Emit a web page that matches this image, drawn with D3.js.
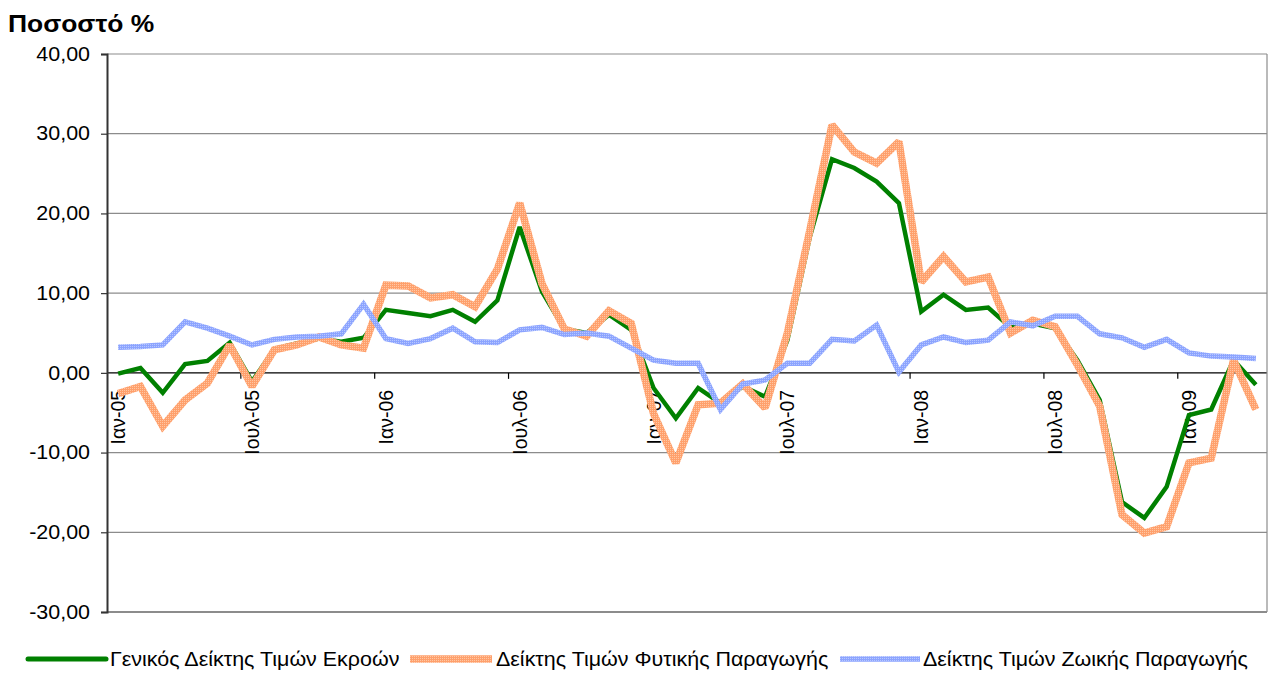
<!DOCTYPE html>
<html>
<head>
<meta charset="utf-8">
<script src="https://cdn.jsdelivr.net/npm/d3@7"></script>
<style>
  body { margin: 0; background: #fff; }
  text { font-family: "Liberation Sans", Arial, sans-serif; fill: #000; }
</style>
</head>
<body>
<svg></svg>
<script>
// months Jan 2005 .. Apr 2009
const monthNames = ["Ιαν", "Φεβ", "Μαρ", "Απρ", "Μαϊ", "Ιουν", "Ιουλ", "Αυγ", "Σεπ", "Οκτ", "Νοε", "Δεκ"]
const months = []
for (let yr = 5; yr <= 9; yr++) {
    for (let m = 0; m < 12; m++) {
        if (yr === 9 && m > 3) break
        months.push(monthNames[m] + "-0" + yr)
    }
}

// series values (percent)
const general = [
    -0.1, 0.6, -2.5, 1.1, 1.5, 3.8, -1.1, 3.0, 3.7, 4.3, 3.9, 4.4,
    7.9, 7.5, 7.1, 7.9, 6.4, 9.1, 18.3, 10.2, 5.5, 5.0, 7.3, 5.4,
    -1.9, -5.7, -1.9, -3.8, -1.7, -3.0, 4.1, 17.0, 26.8, 25.7, 24.0, 21.3,
    7.7, 9.8, 7.9, 8.2, 5.7, 6.2, 5.6, 1.6, -3.4, -16.2, -18.2, -14.3,
    -5.3, -4.6, 1.6, -1.5
]
const crops = [
    -2.6, -1.7, -6.7, -3.4, -1.3, 3.5, -1.7, 2.9, 3.5, 4.5, 3.5, 3.1,
    11.0, 10.9, 9.4, 9.8, 8.3, 13.0, 21.3, 11.2, 5.5, 4.6, 7.8, 6.2,
    -5.1, -11.3, -4.0, -3.8, -1.4, -4.4, 5.0, 17.8, 31.1, 27.7, 26.3, 29.0,
    11.4, 14.6, 11.4, 12.0, 5.0, 6.6, 5.8, 1.0, -4.2, -17.8, -20.1, -19.3,
    -11.3, -10.7, 1.6, -4.6
]
const livestock = [
    3.2, 3.3, 3.5, 6.4, 5.6, 4.6, 3.5, 4.2, 4.5, 4.6, 4.9, 8.6,
    4.3, 3.7, 4.3, 5.6, 3.9, 3.8, 5.4, 5.7, 4.8, 5.0, 4.6, 3.1,
    1.6, 1.2, 1.2, -4.6, -1.4, -0.9, 1.2, 1.2, 4.2, 4.0, 6.0, 0.1,
    3.5, 4.5, 3.8, 4.1, 6.4, 5.9, 7.1, 7.1, 4.9, 4.4, 3.2, 4.2,
    2.5, 2.1, 2.0, 1.8
]
const yTicks = [40, 30, 20, 10, 0, -10, -20, -30]
const seriesNames = ["Γενικός Δείκτης Τιμών Εκροών", "Δείκτης Τιμών Φυτικής Παραγωγής", "Δείκτης Τιμών Ζωικής Παραγωγής"]

const svg = d3.select("svg")
    .attr("width", 1269)
    .attr("height", 674)

const plotLeft = 107, plotRight = 1267, plotTop = 54, plotBottom = 612
const stretch = 1.1   // the original text is a little wider than Arial

// hatched textures like the excel line styles
const defs = svg.append("defs")
const makePattern = (id, base, dot) => {
    const p = defs.append("pattern")
        .attr("id", id)
        .attr("patternUnits", "userSpaceOnUse")
        .attr("width", 2)
        .attr("height", 2)
    p.append("rect").attr("width", 2).attr("height", 2).attr("fill", base)
    p.append("rect").attr("width", 1).attr("height", 1).attr("fill", dot)
}
makePattern("pat-orange", "#FFA06C", "#FFC7A4")
makePattern("pat-blue", "#8CA4FF", "#B8C8FF")

const x = d3.scaleBand()
    .domain(months)
    .range([plotLeft, plotRight])

const y = d3.scaleLinear()
    .domain([-30, 40])
    .range([plotBottom, plotTop])

// gridlines
svg.append("g")
    .selectAll("line")
    .data(yTicks)
    .enter()
    .append("line")
    .attr("x1", plotLeft)
    .attr("x2", plotRight)
    .attr("y1", d => y(d))
    .attr("y2", d => y(d))
    .style("stroke", d => d === 0 ? "#000" : "#8c8c8c")
    .style("stroke-width", d => d === -30 ? 2 : 1.2)

// right border
svg.append("line")
    .attr("x1", plotRight).attr("x2", plotRight)
    .attr("y1", plotTop).attr("y2", plotBottom)
    .style("stroke", "#8c8c8c")
    .style("stroke-width", 1.2)

// y axis
const yAxis = svg.append("g")
    .attr("transform", `translate(${plotLeft}, 0)`)
    .call(d3.axisLeft(y).tickValues(yTicks).tickSize(6)
        .tickFormat(d => d.toFixed(2).replace(".", ",")))
yAxis.select(".domain").style("stroke", "#333").style("stroke-width", 2)
yAxis.selectAll(".tick line").style("stroke", "#333").style("stroke-width", 1.2)
yAxis.selectAll("text")
    .attr("x", -17 / stretch)
    .attr("transform", `scale(${stretch}, 1)`)
    .style("font-family", "Liberation Sans, Arial, sans-serif")
    .style("font-size", "19.5px")
    .attr("fill", "#000")

// x ticks at category boundaries, every 6 months
const tickMonths = months.filter((m, i) => i % 6 === 0)
svg.append("g")
    .selectAll("line")
    .data(tickMonths.slice(1))
    .enter()
    .append("line")
    .attr("x1", d => x(d))
    .attr("x2", d => x(d))
    .attr("y1", y(0))
    .attr("y2", y(0) + 6)
    .style("stroke", "#000")
    .style("stroke-width", 1.2)

svg.append("g")
    .selectAll("text")
    .data(tickMonths)
    .enter()
    .append("text")
    .attr("transform", d => `translate(${x(d) + x.bandwidth() / 2 + 7}, ${y(0) + 17}) rotate(-90)`)
    .attr("text-anchor", "end")
    .style("font-size", "19.5px")
    .text(d => d)

// lines
const line = d3.line()
    .x((d, i) => x(months[i]) + x.bandwidth() / 2)
    .y(d => y(d))

const series = [
    { name: seriesNames[0], values: general, stroke: "#008000", width: 4.5 },
    { name: seriesNames[1], values: crops, stroke: "url(#pat-orange)", width: 7.5 },
    { name: seriesNames[2], values: livestock, stroke: "url(#pat-blue)", width: 5.5 }
]

svg.append("g")
    .selectAll("path")
    .data(series)
    .enter()
    .append("path")
    .attr("d", d => line(d.values))
    .style("fill", "none")
    .style("stroke", d => d.stroke)
    .style("stroke-width", d => d.width)
    .style("stroke-linejoin", "miter")
    .style("stroke-miterlimit", 2)

// title
svg.append("text")
    .attr("transform", `translate(8, 32) scale(${stretch}, 1)`)
    .style("font-size", "24px")
    .style("font-weight", "bold")
    .text("Ποσοστό %")

// legend
const legendPos = [{ x1: 28, x2: 106, tx: 110 }, { x1: 410, x2: 492, tx: 496 }, { x1: 840, x2: 920, tx: 923 }]
const legend = svg.append("g")
    .selectAll("g")
    .data(series)
    .enter()
    .append("g")

legend.append("line")
    .attr("x1", (d, i) => legendPos[i].x1)
    .attr("x2", (d, i) => legendPos[i].x2)
    .attr("y1", 659)
    .attr("y2", 659)
    .style("stroke", d => d.stroke)
    .style("stroke-width", (d, i) => i === 0 ? 5 : d.width)
    .style("stroke-linecap", (d, i) => i === 0 ? "round" : "butt")

legend.append("text")
    .attr("transform", (d, i) => `translate(${legendPos[i].tx}, 666) scale(${stretch}, 1)`)
    .style("font-size", "19.5px")
    .text(d => d.name)
</script>
</body>
</html>
